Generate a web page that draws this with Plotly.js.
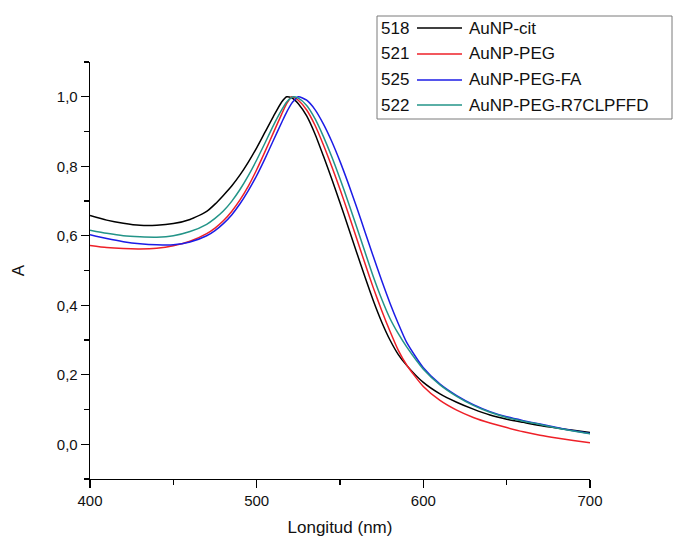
<!DOCTYPE html>
<html>
<head>
<meta charset="utf-8">
<script src="https://cdn.plot.ly/plotly-3.0.1.min.js"></script>
<style>html,body{margin:0;padding:0;background:#fff;}#chart{width:673px;height:542px;}</style>
</head>
<body>
<div id="chart"></div>
<script>
// Wavelength grid (nm)
const wavelength = [400,410,420,430,440,450,460,470,475,480,485,490,495,500,505,510,515,518,521,522,525,530,535,540,545,550,555,560,565,570,575,580,585,590,600,610,620,630,640,650,660,670,680,690,700];

// Absorbance series
const aCit   = [0.658,0.645,0.636,0.630,0.630,0.635,0.647,0.670,0.691,0.716,0.743,0.775,0.812,0.853,0.898,0.943,0.985,1.000,0.997,0.994,0.980,0.945,0.893,0.830,0.764,0.695,0.624,0.552,0.481,0.413,0.352,0.300,0.258,0.227,0.178,0.145,0.121,0.101,0.084,0.072,0.063,0.054,0.047,0.040,0.034];
const aPeg   = [0.572,0.566,0.563,0.562,0.564,0.571,0.584,0.606,0.622,0.643,0.670,0.703,0.743,0.790,0.842,0.896,0.950,0.980,1.000,0.999,0.990,0.962,0.918,0.862,0.800,0.734,0.664,0.592,0.520,0.450,0.385,0.325,0.270,0.228,0.166,0.126,0.098,0.077,0.061,0.048,0.036,0.026,0.018,0.011,0.004];
const aPegFa = [0.603,0.592,0.583,0.577,0.574,0.574,0.582,0.600,0.615,0.635,0.660,0.692,0.730,0.773,0.822,0.874,0.926,0.956,0.981,0.987,1.000,0.990,0.963,0.922,0.872,0.814,0.750,0.682,0.611,0.540,0.471,0.406,0.347,0.293,0.220,0.173,0.140,0.114,0.094,0.079,0.068,0.058,0.048,0.039,0.031];
const aPegR7 = [0.616,0.607,0.600,0.597,0.596,0.600,0.612,0.633,0.650,0.671,0.699,0.733,0.773,0.818,0.867,0.917,0.962,0.985,0.998,1.000,0.996,0.975,0.937,0.886,0.828,0.764,0.696,0.625,0.553,0.482,0.418,0.362,0.318,0.280,0.216,0.171,0.138,0.112,0.092,0.077,0.066,0.057,0.047,0.038,0.030];

// Legend content
const seriesNames = ['AuNP-cit','AuNP-PEG','AuNP-PEG-FA','AuNP-PEG-R7CLPFFD'];
const peakLabels = ['518','521','525','522'];
const seriesColors = ['#000000','#ee2028','#1c1ce6','#239488'];
const seriesData = [aCit, aPeg, aPegFa, aPegR7];

const xTickVals = [400,500,600,700];
const yTickVals = [0,0.2,0.4,0.6,0.8,1.0];

const FONT = 'Liberation Sans, Arial, sans-serif';

const traces = seriesData.map((ys, i) => ({
  type: 'scatter', mode: 'lines',
  x: wavelength, y: ys, name: seriesNames[i],
  line: {color: seriesColors[i], width: 1.5, shape: 'spline', smoothing: 0.6},
  showlegend: false, hoverinfo: 'skip'
}));

// Manual legend (numbers before the line sample), in paper coords
const L = 90, W = 500, B = 479, H = 417;
const px = x => (x - L) / W;
const py = y => (B - y) / H;
const rowY = [28, 54, 80, 105];
const shapes = [{
  type: 'rect', xref: 'paper', yref: 'paper',
  x0: px(377), x1: px(672), y0: py(119), y1: py(16),
  line: {color: '#7a7a7a', width: 1}, fillcolor: 'rgba(255,255,255,0)'
}];
const annotations = [];
seriesNames.forEach((n, i) => {
  shapes.push({type: 'line', xref: 'paper', yref: 'paper',
    x0: px(417), x1: px(462), y0: py(rowY[i]), y1: py(rowY[i]),
    line: {color: seriesColors[i], width: 1.5}});
  annotations.push({xref: 'paper', yref: 'paper', x: px(379), y: py(rowY[i]),
    xanchor: 'left', yanchor: 'middle', showarrow: false, text: peakLabels[i],
    font: {family: FONT, size: 17, color: '#111'}});
  annotations.push({xref: 'paper', yref: 'paper', x: px(467), y: py(rowY[i]),
    xanchor: 'left', yanchor: 'middle', showarrow: false, text: n,
    font: {family: FONT, size: 17, color: '#111'}});
});

const layout = {
  width: 673, height: 542,
  margin: {l: 90, r: 83, t: 62, b: 63},
  paper_bgcolor: '#fff', plot_bgcolor: '#fff',
  separators: ',.',
  font: {family: FONT, size: 15, color: '#111'},
  showlegend: false,
  xaxis: {
    range: [400, 700], tickvals: xTickVals, tickformat: 'd',
    showline: true, linecolor: '#000', linewidth: 1.3, mirror: false,
    ticks: 'outside', ticklen: 8, tickwidth: 1.3, tickcolor: '#000',
    minor: {dtick: 50, tick0: 400, ticks: 'outside', ticklen: 5, tickwidth: 1.3, tickcolor: '#000', showgrid: false},
    showgrid: false, zeroline: false,
    tickfont: {family: FONT, size: 15, color: '#111'},
    title: {text: 'Longitud (nm)', font: {family: FONT, size: 17, color: '#111'}, standoff: 12}
  },
  yaxis: {
    range: [-0.1, 1.1], tickvals: yTickVals, tickformat: '.1f',
    showline: true, linecolor: '#000', linewidth: 1.3, mirror: false,
    ticks: 'outside', ticklen: 8, tickwidth: 1.3, tickcolor: '#000',
    minor: {dtick: 0.1, tick0: 0, ticks: 'outside', ticklen: 5, tickwidth: 1.3, tickcolor: '#000', showgrid: false},
    showgrid: false, zeroline: false,
    tickfont: {family: FONT, size: 15, color: '#111'},
    title: {text: 'A', font: {family: FONT, size: 17, color: '#111'}, standoff: 28}
  },
  shapes: shapes,
  annotations: annotations
};

Plotly.newPlot('chart', traces, layout, {displayModeBar: false, staticPlot: true});
</script>
</body>
</html>
